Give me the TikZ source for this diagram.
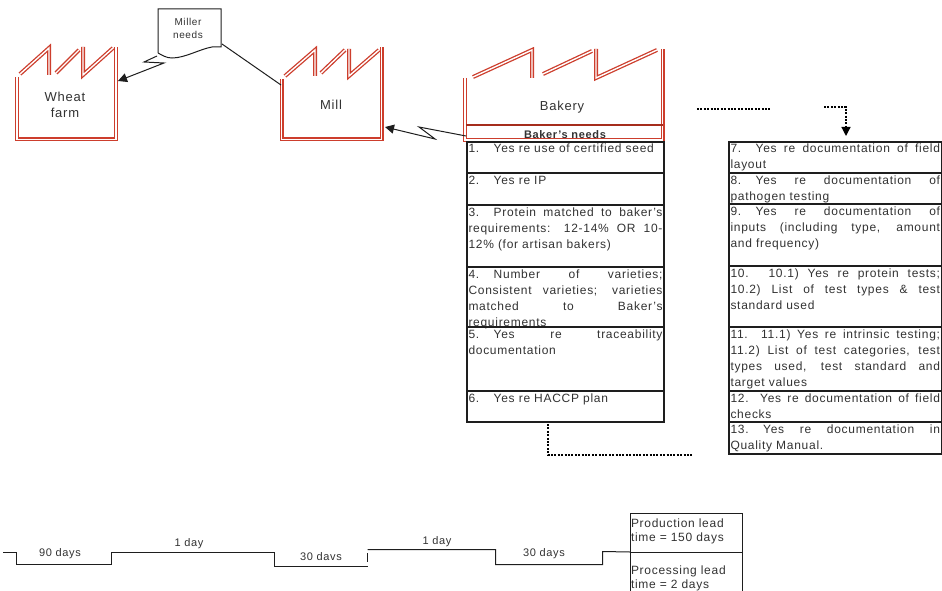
\documentclass[tikz,border=0pt]{standalone}
\usepackage{fontspec}
\setmainfont{Liberation Sans}[LetterSpace=6]
\usetikzlibrary{%
	arrows.meta,%
	positioning,%
}
\definecolor{cred}{RGB}{205, 62, 45}
\definecolor{creddark}{RGB}{165, 45, 28}
\definecolor{cline}{RGB}{30, 30, 30}
\definecolor{ctext}{RGB}{50, 50, 50}
\tolerance=9999
\hbadness=10000
\tikzset{
	>={Triangle[length=9pt, width=9pt]},%
	nodes={align=center, text=ctext},%
	factoryline/.style={%
			draw=cred,%
			double=white,%
			double distance=1.4pt,%
			line width=1.3pt},%
	factorylabel/.style={%
			font={\fontsize{13}{16}\selectfont},%
			inner sep=0},%
	notelabel/.style={%
			font={\fontsize{10}{13}\selectfont},%
			inner sep=0},%
	cellnode/.style={%
			draw=cline,%
			rectangle,%
			line width=1.3pt,%
			outer sep=0,%
			inner xsep=1.5pt,%
			inner ysep=1pt,%
			text height=10pt,%
			align=justify,%
			font={\fontsize{12}{16}\selectfont},%
			anchor=north west},%
	bakercell/.style={%
			cellnode,%
			text width=194pt,%
			text depth=#1pt-12pt},%
	qualitycell/.style={%
			cellnode,%
			text width=209.5pt,%
			text depth=#1pt-12pt},%
	leadcell/.style={%
			draw=cline,%
			rectangle,%
			thick,%
			outer sep=0,%
			inner xsep=1pt,%
			inner ysep=1pt,%
			text width=110pt,%
			align=left,%
			font={\fontsize{12}{14.5}\selectfont},%
			anchor=north west},%
	timeline/.style={draw=cline, line width=1pt},%
	timelabel/.style={font={\fontsize{11}{12}\selectfont}, inner sep=0},%
	flowline/.style={draw=cline, line width=1pt},%
	dashflow/.style={draw=black, line width=1.2pt, dash pattern=on 2pt off 1.4pt},%
}
\newcommand{\numgap}{\hspace*{14.5pt}}

\begin{document}
\begin{tikzpicture}[x=1pt, y=-1pt]%
	\useasboundingbox (0,0) rectangle (942,591);

	% factories
	\node[factorylabel] (farm) at (65,105) {Wheat\\farm};
	\node[factorylabel] (mill) at (331,105) {Mill};
	\node[factorylabel] (bakery) at (562,107) {Bakery};

	\draw[factoryline] (17,77) -- (17,139.5) -- (116,139.5) -- (116,47);
	\draw[factoryline] (20,74) -- (49,48) -- (49,75);
	\draw[factoryline] (56,73) -- (79,50);
	\draw[factoryline] (83,47) -- (83,75) -- (113,48);

	\draw[factoryline] (281.5,79) -- (281.5,139.5) -- (381.5,139.5) -- (381.5,47);
	\draw[factoryline] (285,76) -- (315,50) -- (315,76);
	\draw[factoryline] (321,73) -- (345,50);
	\draw[factoryline] (349,49) -- (349,76) -- (379,50);

	\draw[factoryline] (465,78) -- (465,140) -- (662.5,140) -- (662.5,49);
	\draw[factoryline] (473,77) -- (532,50) -- (532,78);
	\draw[factoryline] (543,74) -- (592,51);
	\draw[factoryline] (596,49) -- (596,78) -- (657,50);
	\draw[creddark, line width=2.4pt] (466,125) -- (663,125);
	\node[inner sep=0, font={\fontsize{11}{12}\selectfont\bfseries}] (needs) at (565,135) {Baker's needs};

	% baker table
	\node[bakercell=31] (b1) at (467,142) {1.\numgap Yes re use of certified seed};
	\node[bakercell=32] (b2) [below=0pt of b1] {2.\numgap Yes re IP};
	\node[bakercell=62] (b3) [below=0pt of b2] {3.\numgap Protein matched to baker's\linebreak requirements: 12-14\% OR 10-\linebreak 12\% (for artisan bakers)};
	\node[bakercell=60] (b4) [below=0pt of b3] {4.\numgap Number of varieties;\linebreak Consistent varieties; varieties\linebreak matched to Baker's\linebreak requirements};
	\node[bakercell=64] (b5) [below=0pt of b4] {5.\numgap Yes re traceability\linebreak documentation};
	\node[bakercell=31] (b6) [below=0pt of b5] {6.\numgap Yes re HACCP plan};

	% quality table
	\node[qualitycell=31] (q7) at (729,142) {7.\numgap Yes re documentation of field\linebreak layout};
	\node[qualitycell=31] (q8) [below=0pt of q7] {8.\numgap Yes re documentation of\linebreak pathogen testing};
	\node[qualitycell=62] (q9) [below=0pt of q8] {9.\numgap Yes re documentation of\linebreak inputs (including type, amount\linebreak and frequency)};
	\node[qualitycell=61] (q10) [below=0pt of q9] {10. 10.1) Yes re protein tests;\linebreak 10.2) List of test types \& test\linebreak standard used};
	\node[qualitycell=64] (q11) [below=0pt of q10] {11. 11.1) Yes re intrinsic testing;\linebreak 11.2) List of test categories, test\linebreak types used, test standard and\linebreak target values};
	\node[qualitycell=31] (q12) [below=0pt of q11] {12. Yes re documentation of field\linebreak checks};
	\node[qualitycell=32] (q13) [below=0pt of q12] {13.\numgap Yes re documentation in\linebreak Quality Manual.};

	% miller note
	\node[notelabel] (miller) at (188,28) {Miller\\needs};
	\draw[line width=1pt, draw=cline] (158,53) -- (158,9) -- (221,9) -- (221,47) -- (212,47) .. controls (200,49) and (185,58) .. (172,58) .. controls (166,58) and (162,55) .. (158,53);

	% connectors
	\coordinate (noteout) at (157,56);
	\coordinate (farmin) at (118,81);
	\coordinate (notecorner) at (222,44);
	\coordinate (millin) at (281,85);
	\coordinate (bakeryout) at (466,136);
	\coordinate (millout) at (385,127);
	\draw[flowline, ->] (noteout) -- (144,62) -- (164,63) -- (farmin);
	\draw[flowline] (notecorner) -- (millin);
	\draw[flowline, ->] (bakeryout) -- (419,127) -- (435,139) -- (millout);

	\coordinate (dashstart) at (548,424);
	\coordinate (dashend) at (693,455);
	\coordinate (dashrestart) at (697,109);
	\coordinate (dashstop) at (771,109);
	\coordinate (dashagain) at (824,107);
	\coordinate (dasharrow) at (846,136);
	\draw[dashflow] (dashstart) |- (dashend);
	\draw[dashflow] (dashrestart) -- (dashstop);
	\draw[dashflow, ->] (dashagain) -| (dasharrow);

	% timeline
	\node[leadcell, text height=13pt, text depth=24pt] (prod) at (630,513) {Production lead\\time = 150 days};
	\node[leadcell, text height=21pt, text depth=18pt] (proc) [below=0pt of prod] {Processing lead\\time = 2 days};
	\draw[timeline] (3,552.5) -- (16.5,552.5) -- (16.5,564.5) -- (111.5,564.5) -- (111.5,552.5) -- (274.5,552.5) -- (274.5,566.5) -- (367.5,566.5);
	\draw[timeline] (367.5,553) -- (367.5,562);
	\draw[timeline] (367.5,549.5) -- (495.5,549.5) -- (495.5,564.5) -- (602.5,564.5) -- (602.5,551.5) -- (prod.south west);
	\node[timelabel] (t1) at (60,554) {90 days};
	\node[timelabel] (t2) at (189,544) {1 day};
	\node[timelabel] (t3) at (321,557) {30 davs};
	\node[timelabel] (t4) at (437,542) {1 day};
	\node[timelabel] (t5) at (544,554) {30 days};
\end{tikzpicture}
\end{document}
